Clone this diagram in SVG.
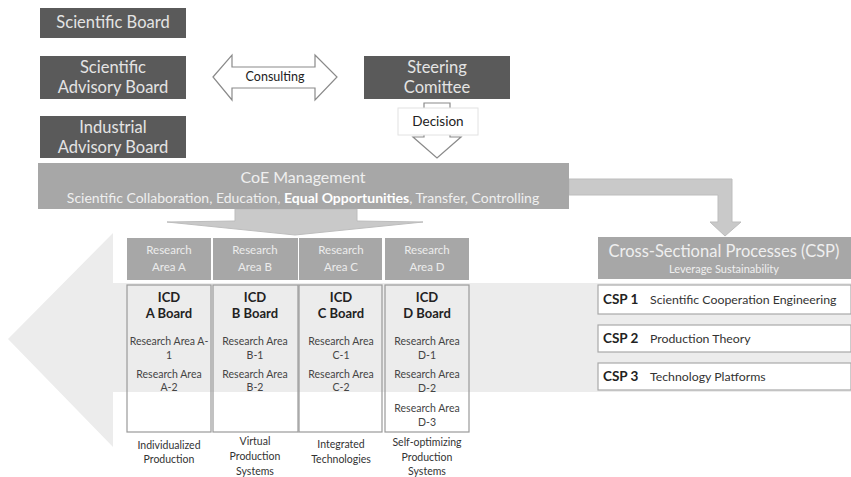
<svg xmlns="http://www.w3.org/2000/svg" width="851" height="477" viewBox="0 0 851 477">
<style>
text{font-family:Lato,"Open Sans","Liberation Sans",sans-serif;text-anchor:middle}
.dark{fill:#5a5a5a}
.dt{fill:#e4e4e4;font-size:16.5px}
.mid{fill:#a7a7a7}
.lt{fill:#efefef}
.hdr{fill:#ececec;font-size:11.5px}
.body{fill:none;stroke:#9a9a9a;stroke-width:1.2}
.b{font-weight:bold;fill:#222;font-size:13px}
.s{fill:#444;font-size:10.5px}
.lab{fill:#333;font-size:10.5px}
.outline{fill:#fff;stroke:#8a8a8a;stroke-width:1.2}
.conn{fill:#c9c9c9;stroke:#bdbdbd;stroke-width:1}
.row{fill:#fff;stroke:#a9a9a9;stroke-width:1.2}
.cspb{font-weight:bold;fill:#222;font-size:13.5px;text-anchor:start}
.cspt{fill:#333;font-size:12.3px;text-anchor:start}
</style>
<rect width="851" height="477" fill="#fff"/>
<g id="background-arrow">
<polygon points="8,339 113,233 113,283 851,283 851,392 113,392 113,447" fill="#ececec"/>
</g>
<g id="connectors">
<polygon class="outline" points="213,77 232,55 232,67 315,67 315,55 337,77 315,100 315,88 232,88 232,100"/>
<polygon class="outline" points="424,103 450,103 450,137 461,137 437,158 413,137 424,137"/>
<polygon class="conn" points="235,209 357,209 357,221 423,222 295,235 167,222 235,221"/>
<polygon class="conn" points="569,179 732,179 732,222 741,222 725,236 710,222 718,222 718,195 569,195"/>
</g>
<g id="consulting-label"><text x="275" y="81" style="font-size:12.5px;fill:#222">Consulting</text></g>
<g id="decision-label">
<rect x="398" y="108" width="80" height="27" fill="#fff" stroke="#e2e2e2"/>
<text x="438" y="126" style="font-size:13.5px;fill:#222">Decision</text>
</g>
<g id="scientific-board">
<rect class="dark" x="40" y="8" width="146" height="30"/>
<text class="dt" x="113" y="28">Scientific Board</text>
</g>
<g id="scientific-advisory-board">
<rect class="dark" x="40" y="56" width="146" height="43"/>
<text class="dt" x="113" y="73">Scientific</text>
<text class="dt" x="113" y="93">Advisory Board</text>
</g>
<g id="industrial-advisory-board">
<rect class="dark" x="40" y="116" width="146" height="42"/>
<text class="dt" x="113" y="133">Industrial</text>
<text class="dt" x="113" y="153">Advisory Board</text>
</g>
<g id="steering-committee">
<rect class="dark" x="364" y="56" width="146" height="43"/>
<text class="dt" x="437" y="73">Steering</text>
<text class="dt" x="437" y="93">Comittee</text>
</g>
<g id="coe-management">
<rect class="mid" x="38" y="163" width="531" height="46"/>
<text class="lt" x="303" y="183" style="font-size:16px">CoE Management</text>
<text class="lt" x="303" y="203" style="font-size:14px">Scientific Collaboration, Education, <tspan style="font-weight:bold;fill:#fff">Equal Opportunities</tspan>, Transfer, Controlling</text>
</g>
<g id="csp">
<rect class="mid" x="598" y="237" width="253" height="42"/>
<text class="lt" x="724" y="257" style="font-size:16.5px">Cross-Sectional Processes (CSP)</text>
<text class="lt" x="724" y="273" style="font-size:11px">Leverage Sustainability</text>
</g>
<g id="csp1">
<rect class="row" x="598" y="285" width="253" height="29"/>
<text class="cspb" x="603" y="304">CSP 1</text>
<text class="cspt" x="650" y="304">Scientific Cooperation Engineering</text>
</g>
<g id="csp2">
<rect class="row" x="598" y="325" width="253" height="27"/>
<text class="cspb" x="603" y="343">CSP 2</text>
<text class="cspt" x="650" y="343">Production Theory</text>
</g>
<g id="csp3">
<rect class="row" x="598" y="363" width="253" height="27"/>
<text class="cspb" x="603" y="381">CSP 3</text>
<text class="cspt" x="650" y="381">Technology Platforms</text>
</g>
<g id="area-a">
<rect class="mid" x="127" y="238" width="84" height="42"/>
<text class="hdr" x="169" y="254">Research</text>
<text class="hdr" x="169" y="271">Area A</text>
<rect class="body" x="127" y="285" width="84" height="147"/>
<text class="b" x="169" y="302">ICD</text>
<text class="b" x="169" y="318">A Board</text>
<text class="s" x="169" y="345">Research Area A-</text>
<text class="s" x="169" y="359">1</text>
<text class="s" x="169" y="378">Research Area</text>
<text class="s" x="169" y="391">A-2</text>
<text class="lab" x="169" y="449">Individualized</text>
<text class="lab" x="169" y="463">Production</text>
</g>
<g id="area-b">
<rect class="mid" x="213" y="238" width="85" height="42"/>
<text class="hdr" x="255" y="254">Research</text>
<text class="hdr" x="255" y="271">Area B</text>
<rect class="body" x="213" y="285" width="85" height="147"/>
<text class="b" x="255" y="302">ICD</text>
<text class="b" x="255" y="318">B Board</text>
<text class="s" x="255" y="345">Research Area</text>
<text class="s" x="255" y="359">B-1</text>
<text class="s" x="255" y="378">Research Area</text>
<text class="s" x="255" y="391">B-2</text>
<text class="lab" x="255" y="445">Virtual</text>
<text class="lab" x="255" y="460">Production</text>
<text class="lab" x="255" y="475">Systems</text>
</g>
<g id="area-c">
<rect class="mid" x="299" y="238" width="83" height="42"/>
<text class="hdr" x="341" y="254">Research</text>
<text class="hdr" x="341" y="271">Area C</text>
<rect class="body" x="299" y="285" width="83" height="147"/>
<text class="b" x="341" y="302">ICD</text>
<text class="b" x="341" y="318">C Board</text>
<text class="s" x="341" y="345">Research Area</text>
<text class="s" x="341" y="359">C-1</text>
<text class="s" x="341" y="378">Research Area</text>
<text class="s" x="341" y="391">C-2</text>
<text class="lab" x="341" y="448">Integrated</text>
<text class="lab" x="341" y="463">Technologies</text>
</g>
<g id="area-d">
<rect class="mid" x="385" y="238" width="84" height="42"/>
<text class="hdr" x="427" y="254">Research</text>
<text class="hdr" x="427" y="271">Area D</text>
<rect class="body" x="385" y="285" width="84" height="147"/>
<text class="b" x="427" y="302">ICD</text>
<text class="b" x="427" y="318">D Board</text>
<text class="s" x="427" y="345">Research Area</text>
<text class="s" x="427" y="359">D-1</text>
<text class="s" x="427" y="378">Research Area</text>
<text class="s" x="427" y="392">D-2</text>
<text class="s" x="427" y="412">Research Area</text>
<text class="s" x="427" y="426">D-3</text>
<text class="lab" x="427" y="446">Self-optimizing</text>
<text class="lab" x="427" y="461">Production</text>
<text class="lab" x="427" y="475">Systems</text>
</g>
</svg>
